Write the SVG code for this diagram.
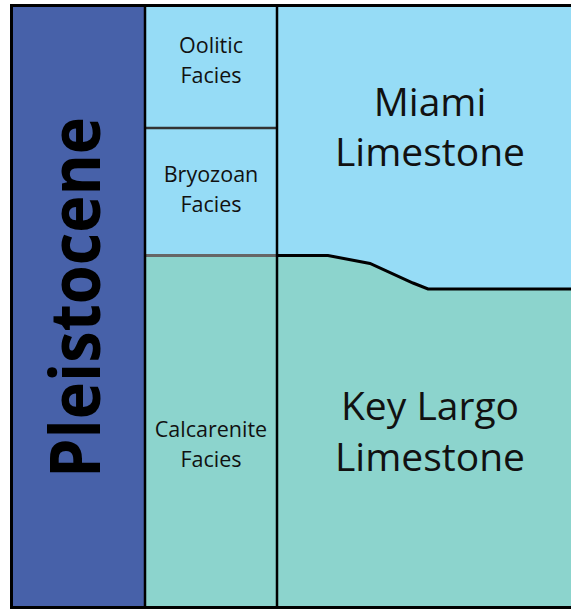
<svg xmlns="http://www.w3.org/2000/svg" width="571" height="609" viewBox="0 0 571 609">
<style>
.sm{font-family:"Open Sans","Liberation Sans",sans-serif;font-size:21.5px;fill:#111;text-anchor:middle}
.lg{font-family:"Open Sans","Liberation Sans",sans-serif;font-size:39px;fill:#111;text-anchor:middle}
.ep{font-family:"Open Sans","Liberation Sans",sans-serif;font-size:69px;font-weight:bold;fill:#000;text-anchor:middle}
.ln{stroke:#000;stroke-width:3;fill:none}
</style>
<rect x="0" y="0" width="571" height="609" fill="#fff"/>
<g id="pleistocene">
<rect x="12" y="5" width="133" height="602" fill="#4761A9"/>
<text class="ep" transform="translate(100,297.5) rotate(-90)" x="0" y="0" textLength="361" lengthAdjust="spacingAndGlyphs">Pleistocene</text>
</g>
<g id="oolitic">
<rect x="145" y="5" width="132" height="123" fill="#96DCF6"/>
<text class="sm" x="211" y="53">Oolitic</text>
<text class="sm" x="211" y="83">Facies</text>
</g>
<g id="bryozoan">
<rect x="145" y="128" width="132" height="127" fill="#96DCF6"/>
<text class="sm" x="211" y="182">Bryozoan</text>
<text class="sm" x="211" y="212">Facies</text>
</g>
<g id="calcarenite">
<rect x="145" y="255" width="132" height="352" fill="#8CD4CD"/>
<text class="sm" x="211" y="437">Calcarenite</text>
<text class="sm" x="211" y="467">Facies</text>
</g>
<g id="miami">
<rect x="277" y="5" width="294" height="290" fill="#96DCF6"/>
<text class="lg" x="430" y="116">Miami</text>
<text class="lg" x="430" y="166">Limestone</text>
</g>
<g id="keylargo">
<polygon points="277,255 328,255 370,263 413,283 428,289 571,289 571,607 277,607" fill="#8CD4CD"/>
<text class="lg" x="430" y="420">Key Largo</text>
<text class="lg" x="430" y="471">Limestone</text>
</g>
<g id="connectors">
<line x1="145" y1="128" x2="277" y2="128" stroke="#333" stroke-width="2.5"/>
<line x1="145" y1="255.5" x2="277" y2="255.5" stroke="#666" stroke-width="3"/>
<polyline class="ln" points="277,255.5 328,255.5 370,263.5 413,283 428,289 571,289"/>
<line x1="145" y1="5" x2="145" y2="607" stroke="#000" stroke-width="2.5"/>
<line x1="277" y1="5" x2="277" y2="607" stroke="#000" stroke-width="2.5"/>
<line x1="10.5" y1="5.5" x2="571" y2="5.5" class="ln"/>
<line x1="10.5" y1="607.5" x2="571" y2="607.5" class="ln"/>
<line x1="11.5" y1="4" x2="11.5" y2="609" class="ln"/>
</g>
</svg>
